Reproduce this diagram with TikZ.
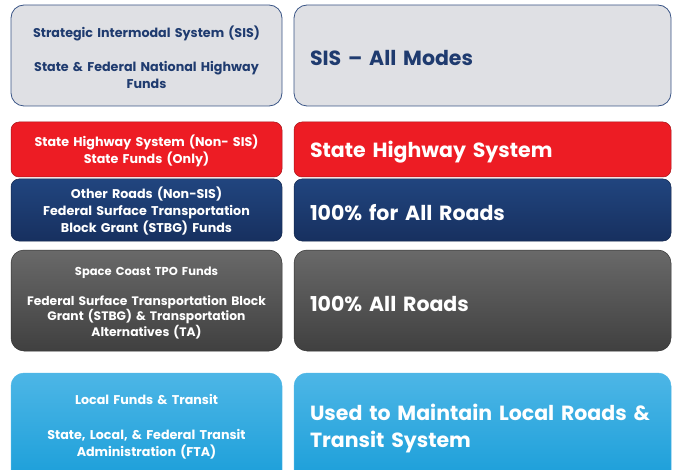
\documentclass[tikz,border=0pt]{standalone}
\usepackage{fontspec}
\setmainfont{Poppins}
\definecolor{navytext}{HTML}{1F3B6F}
\definecolor{lgray}{HTML}{DFE0E4}
\definecolor{lborder}{HTML}{3A5586}
\definecolor{redc}{HTML}{ED1C24}
\definecolor{navytop}{HTML}{21457F}
\definecolor{navybot}{HTML}{17305F}
\definecolor{graytop}{HTML}{696969}
\definecolor{graybot}{HTML}{404040}
\definecolor{bluetop}{HTML}{4DB6E6}
\definecolor{bluebot}{HTML}{1A9ED9}
\tikzset{
  leftbox/.style={rectangle, minimum width=271pt, inner sep=0pt},
  rightbox/.style={rectangle, minimum width=377pt, inner sep=0pt},
  lefttext/.style={text width=262pt, align=center, inner sep=0pt, font=\bfseries\fontsize{12.7}{17}\selectfont},
  righttext/.style={text width=345pt, align=left, inner sep=0pt, font=\bfseries\fontsize{20.5}{27}\selectfont},
  greyfill/.style={fill=lgray, draw=lborder, line width=0.8pt, rounded corners=13pt},
  redfill/.style={fill=redc, draw=redc!70!black, line width=0.5pt, rounded corners=8pt},
  navyfill/.style={top color=navytop, bottom color=navybot, draw=navybot!80!black, line width=0.5pt, rounded corners=8pt},
  grayfill/.style={top color=graytop, bottom color=graybot, draw=graybot!80!black, line width=0.5pt, rounded corners=13pt},
  bluefill/.style={top color=bluetop, bottom color=bluebot, draw=bluetop, line width=0.5pt, rounded corners=13pt},
}
\begin{document}
\begin{tikzpicture}[x=1pt,y=-1pt]
\useasboundingbox (0,0) rectangle (676,470);
% boxes
\node[leftbox, greyfill, minimum height=101pt] (l1) at (146.5,55.5) {};
\node[rightbox, greyfill, minimum height=101pt] (r1) at (482.5,55.5) {};
\node[leftbox, redfill, minimum height=55pt] (l2) at (146.5,149.5) {};
\node[rightbox, redfill, minimum height=55pt] (r2) at (482.5,149.5) {};
\node[leftbox, navyfill, minimum height=62pt] (l3) at (146.5,210) {};
\node[rightbox, navyfill, minimum height=62pt] (r3) at (482.5,210) {};
\node[leftbox, grayfill, minimum height=101pt] (l4) at (146.5,300.5) {};
\node[rightbox, grayfill, minimum height=101pt] (r4) at (482.5,300.5) {};
\node[leftbox, bluefill, minimum height=110pt] (l5) at (146.5,428) {};
\node[rightbox, bluefill, minimum height=110pt] (r5) at (482.5,428) {};
% left texts
\node[lefttext, text=navytext] (l1t) at (146.5,57.5)
  {Strategic Intermodal System (SIS)\\[17pt]State \& Federal National Highway\\Funds};
\node[lefttext, text=white] (l2t) at (146.5,150.5)
  {State Highway System (Non- SIS)\\State Funds (Only)};
\node[lefttext, text=white] (l3t) at (146.5,211.5)
  {Other Roads (Non-SIS)\\Federal Surface Transportation\\Block Grant (STBG) Funds};
\node[lefttext, text=white, font=\bfseries\fontsize{12.3}{15.5}\selectfont] (l4t) at (146.5,303)
  {{\fontsize{11.5}{14}\selectfont Space Coast TPO Funds}\\[14pt]Federal Surface Transportation Block\\Grant (STBG) \& Transportation\\Alternatives (TA)};
\node[lefttext, text=white] (l5t) at (146.5,426.5)
  {Local Funds \& Transit\\[18pt]State, Local, \& Federal Transit\\Administration (FTA)};
% right texts
\node[righttext, text=navytext] (r1t) at (482.5,58) {SIS – All Modes};
\node[righttext, text=white] (r2t) at (482.5,152) {State Highway System};
\node[righttext, text=white] (r3t) at (482.5,212.5) {100\% for All Roads};
\node[righttext, text=white] (r4t) at (482.5,304) {100\% All Roads};
\node[righttext, text=white] (r5t) at (482.5,428.5) {Used to Maintain Local Roads \&\\Transit System};
\end{tikzpicture}
\end{document}
